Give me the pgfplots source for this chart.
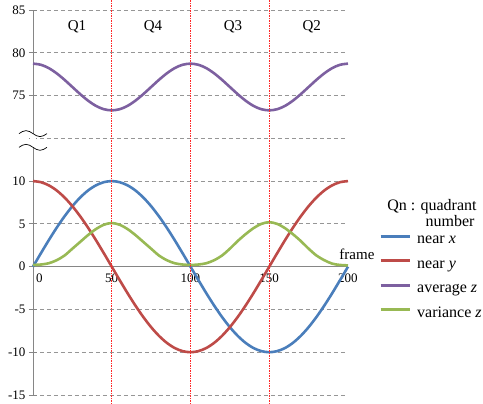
\documentclass[border=0pt]{standalone}
\usepackage{fontspec}
\setmainfont{Liberation Serif}
\usepackage{pgfplots}
\usepackage{pgfplotstable}
\pgfplotsset{compat=1.18}
\definecolor{cx}{RGB}{74,126,187}
\definecolor{cy}{RGB}{190,75,72}
\definecolor{cz}{RGB}{125,96,160}
\definecolor{cv}{RGB}{152,185,84}
\definecolor{axgray}{RGB}{134,134,134}
\definecolor{gridgray}{RGB}{150,150,150}
\definecolor{vred}{RGB}{255,40,40}
\pgfplotstableread{
t nx ny az vz
0 0 10 78.73 0.2
5 1.564 9.877 78.60 0.25
10 3.090 9.511 78.21 0.4
15 4.540 8.910 77.60 0.75
20 5.878 8.090 76.84 1.3
25 7.071 7.071 76.00 2.1
30 8.090 5.878 75.16 2.9
35 8.910 4.540 74.40 3.7
40 9.511 3.090 73.79 4.4
45 9.877 1.564 73.40 4.9
50 10 0 73.27 5.1
55 9.877 -1.564 73.40 4.9
60 9.511 -3.090 73.79 4.4
65 8.910 -4.540 74.40 3.7
70 8.090 -5.878 75.16 2.9
75 7.071 -7.071 76.00 2.1
80 5.878 -8.090 76.84 1.3
85 4.540 -8.910 77.60 0.75
90 3.090 -9.511 78.21 0.4
95 1.564 -9.877 78.60 0.25
100 0 -10 78.73 0.2
105 -1.564 -9.877 78.60 0.25
110 -3.090 -9.511 78.21 0.4
115 -4.540 -8.910 77.60 0.75
120 -5.878 -8.090 76.84 1.3
125 -7.071 -7.071 76.00 2.1
130 -8.090 -5.878 75.16 3.0
135 -8.910 -4.540 74.40 3.8
140 -9.511 -3.090 73.79 4.5
145 -9.877 -1.564 73.40 5.0
150 -10 0 73.27 5.2
155 -9.877 1.564 73.40 5.0
160 -9.511 3.090 73.79 4.5
165 -8.910 4.540 74.40 3.8
170 -8.090 5.878 75.16 3.0
175 -7.071 7.071 76.00 2.1
180 -5.878 8.090 76.84 1.3
185 -4.540 8.910 77.60 0.75
190 -3.090 9.511 78.21 0.35
195 -1.564 9.877 78.60 0.2
200 0 10 78.73 0.15
}\data
\begin{document}
\begin{tikzpicture}
\useasboundingbox (-33pt,-9pt) rectangle (450pt,395pt);
\begin{axis}[
  at={(0,0)}, anchor=south west,
  scale only axis, width=315pt, height=385pt,
  xmin=0, xmax=200, ymin=-15, ymax=30,
  axis x line=middle, axis y line=left,
  axis line style={-, draw=axgray, line width=0.8pt},
  every inner x axis line/.append style={-},
  every outer y axis line/.append style={-},
  xtick={0,50,100,150,200},
  xticklabels={\phantom{00}0,50,100,150,200},
  hide obscured x ticks=false,
  hide obscured y ticks=false,
  x tick style={draw=none},
  ytick={-15,-10,-5,0,5,10,15,20,25,30},
  yticklabels={-15,-10,-5,0,5,10,,75,80,85},
  y tick style={draw=axgray, line width=0.8pt},
  tick align=center, major tick length=8pt,
  ymajorgrids,
  grid style={draw=gridgray, dash pattern=on 4pt off 3pt, line width=0.8pt},
  tick label style={font=\fontsize{13}{15}\selectfont},
  /pgf/number format/assume math mode=true,
  clip=false,
  legend style={at={(axis cs:219.7,4.0)}, anchor=north west, draw=none, fill=none,
    inner sep=0pt, column sep=6pt, row sep=9.5pt,
    nodes={inner sep=0pt, text height=11pt, text depth=4pt},
    font=\fontsize{16}{18}\selectfont},
  legend cell align=left,
  legend image code/.code={\draw[#1, line width=3pt] (0pt,4pt) -- (29pt,4pt);},
]
\addplot[cx, line width=2.6pt, smooth] table[x=t,y=nx]{\data};
\addlegendentry{near \textit{x}}
\addplot[cy, line width=2.6pt, smooth] table[x=t,y=ny]{\data};
\addlegendentry{near \textit{y}}
\addplot[cz, line width=2.6pt, smooth] table[x=t,y expr=\thisrow{az}-55]{\data};
\addlegendentry{average \textit{z}}
\addplot[cv, line width=2.6pt, smooth] table[x=t,y=vz]{\data};
\addlegendentry{variance \textit{z}}
\addplot[vred, dash pattern=on 1.5pt off 1pt, line width=1pt, forget plot] coordinates {(50,-16.1) (50,31.2)};
\addplot[vred, dash pattern=on 1.5pt off 1pt, line width=1pt, forget plot] coordinates {(100,-16.1) (100,31.2)};
\addplot[vred, dash pattern=on 1.5pt off 1pt, line width=1pt, forget plot] coordinates {(150,-16.1) (150,31.2)};
\fill[white] ([xshift=-3pt]axis cs:0,14.0) rectangle ([xshift=3pt]axis cs:0,15.5);
\draw[black, line width=0.7pt] ([xshift=-14pt]axis cs:0,15.55) sin ++(7pt,3pt) cos ++(7pt,-3pt) sin ++(7pt,-3pt) cos ++(7pt,3pt);
\draw[black, line width=0.7pt] ([xshift=-14pt]axis cs:0,13.95) sin ++(7pt,3pt) cos ++(7pt,-3pt) sin ++(7pt,-3pt) cos ++(7pt,3pt);
\node[font=\fontsize{15}{17}\selectfont] at (axis cs:27.9,28.1) {Q1};
\node[font=\fontsize{15}{17}\selectfont] at (axis cs:76.2,28.1) {Q4};
\node[font=\fontsize{15}{17}\selectfont] at (axis cs:127,28.1) {Q3};
\node[font=\fontsize{15}{17}\selectfont] at (axis cs:177,28.1) {Q2};
\node[font=\fontsize{15}{17}\selectfont] at (axis cs:205.7,1.4) {frame};
\node[font=\fontsize{16}{18}\selectfont] at (axis cs:253.3,6.96) {Qn : quadrant};
\node[font=\fontsize{16}{18}\selectfont] at (axis cs:264.8,5.33) {number};
\end{axis}
\end{tikzpicture}
\end{document}
